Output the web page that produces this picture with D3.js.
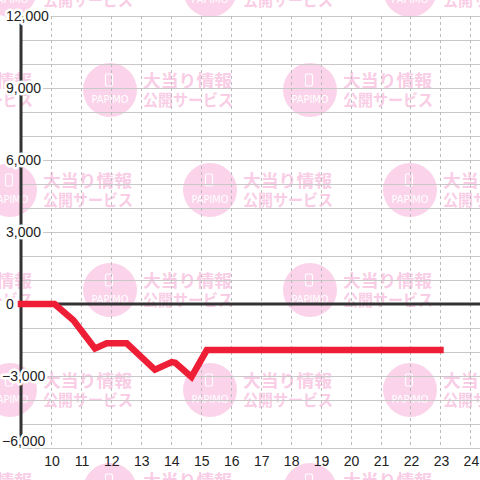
<!DOCTYPE html>
<html>
<head>
<meta charset="utf-8">
<script src="https://cdn.jsdelivr.net/npm/d3@7"></script>
<style>
  html, body { margin: 0; padding: 0; background: #fff; }
  svg { display: block; }
</style>
</head>
<body>
<svg id="chart" width="480" height="480"></svg>
<script>
// ---- data ----
const hours = [9, 10.12, 10.75, 11.47, 11.86, 12.53, 13.47, 14.03, 14.15, 14.69, 15.2, 23];
const diffs = [0, 0, -680, -1850, -1640, -1640, -2740, -2420, -2450, -3040, -1920, -1920];
const xTickValues = [10, 11, 12, 13, 14, 15, 16, 17, 18, 19, 20, 21, 22, 23, 24];
const yTickValues = [-6000, -3000, 0, 3000, 6000, 9000, 12000];
const yGridValues = d3.range(-6000, 12001, 1000);
const watermarkLine1 = "大当り情報";
const watermarkLine2 = "公開サービス";
const watermarkBrand = "PAPIMO";

const svg = d3.select("#chart");
const W = 480, H = 480;

const x = d3.scaleLinear().domain([9, 24.32]).range([21, 480]);
const y = d3.scaleLinear().domain([-6000, 12000]).range([448, 16]);

// ---- watermark tiles (decorative) ----
const wm = svg.append("g");
const centers = [];
for (let j = -1; j <= 5; j++) {
  for (let i = -1; i <= 3; i++) {
    const cx = (j % 2 === 0 ? 10 : 110) + i * 200;
    const cy = -10 + j * 100;
    centers.push([cx, cy]);
  }
}
centers.forEach(([cx, cy]) => {
  const g = wm.append("g");
  g.append("circle").attr("cx", cx).attr("cy", cy).attr("r", 27).attr("fill", "#fbd3ea");
  g.append("rect").attr("x", cx - 4.5).attr("y", cy - 16).attr("width", 7).attr("height", 12)
    .attr("rx", 1.5).attr("fill", "none").attr("stroke", "#fff").attr("stroke-width", 1.2);
  g.append("text").attr("x", cx - 18.5).attr("y", cy + 13)
    .attr("textLength", 37).attr("lengthAdjust", "spacingAndGlyphs")
    .attr("font-family", "DejaVu Sans, sans-serif").attr("font-size", 10)
    .attr("fill", "#fff").text(watermarkBrand);
  g.append("text").attr("x", cx + 33).attr("y", cy - 3)
    .attr("textLength", 89).attr("lengthAdjust", "spacingAndGlyphs")
    .attr("font-family", "Noto Sans CJK JP").attr("font-weight", "bold").attr("font-size", 17)
    .attr("fill", "#f9cde5").text(watermarkLine1);
  g.append("text").attr("x", cx + 33).attr("y", cy + 16)
    .attr("textLength", 90).attr("lengthAdjust", "spacingAndGlyphs")
    .attr("font-family", "Noto Sans CJK JP").attr("font-weight", "bold").attr("font-size", 16)
    .attr("fill", "#f9cde5").text(watermarkLine2);
});

// ---- grid ----
const grid = svg.append("g");
grid.selectAll("line.h").data(yGridValues).enter().append("line")
  .attr("x1", x(9)).attr("x2", W)
  .attr("y1", d => y(d) + 0.5).attr("y2", d => y(d) + 0.5)
  .attr("stroke", "#c8c8c8").attr("stroke-width", 1);
grid.selectAll("line.v").data(xTickValues).enter().append("line")
  .attr("x1", d => Math.round(x(d)) + 0.5).attr("x2", d => Math.round(x(d)) + 0.5)
  .attr("y1", y(12000)).attr("y2", y(-6000))
  .attr("stroke", "#bbbbbb").attr("stroke-width", 1).attr("stroke-dasharray", "3,3");

// ---- zero line and y axis ----
svg.append("line").attr("x1", x(9)).attr("x2", W).attr("y1", y(0)).attr("y2", y(0))
  .attr("stroke", "#333").attr("stroke-width", 3);
svg.append("line").attr("x1", x(9)).attr("x2", x(9)).attr("y1", y(12000)).attr("y2", y(-6000))
  .attr("stroke", "#333").attr("stroke-width", 3);

// ---- y labels with halo ----
const fmt = d3.format(",");
svg.append("g").selectAll("text").data(yTickValues).enter().append("text")
  .attr("x", d => d < 0 ? 2 : 6)
  .attr("y", d => Math.min(y(d), 441))
  .attr("dy", "0.36em")
  .attr("font-family", "Liberation Sans, Arial, sans-serif")
  .attr("font-size", 14)
  .attr("fill", "#222")
  .attr("stroke", "#fff").attr("stroke-width", 5).attr("stroke-linejoin", "round")
  .attr("paint-order", "stroke")
  .text(d => fmt(d));

// ---- x labels ----
svg.append("g").selectAll("text").data(xTickValues).enter().append("text")
  .attr("x", d => x(d) + 1)
  .attr("y", 466)
  .attr("text-anchor", "middle")
  .attr("font-family", "Liberation Sans, Arial, sans-serif")
  .attr("font-size", 14)
  .attr("fill", "#222")
  .text(d => d);

// ---- data line ----
const pts = hours.map((h, i) => [h, diffs[i]]);
svg.append("path")
  .datum(pts)
  .attr("d", d3.line().x(d => x(d[0])).y(d => y(d[1])))
  .attr("fill", "none")
  .attr("stroke", "#ee1e36")
  .attr("stroke-width", 6.5)
  .attr("stroke-linecap", "square")
  .attr("stroke-linejoin", "miter");
</script>
</body>
</html>
